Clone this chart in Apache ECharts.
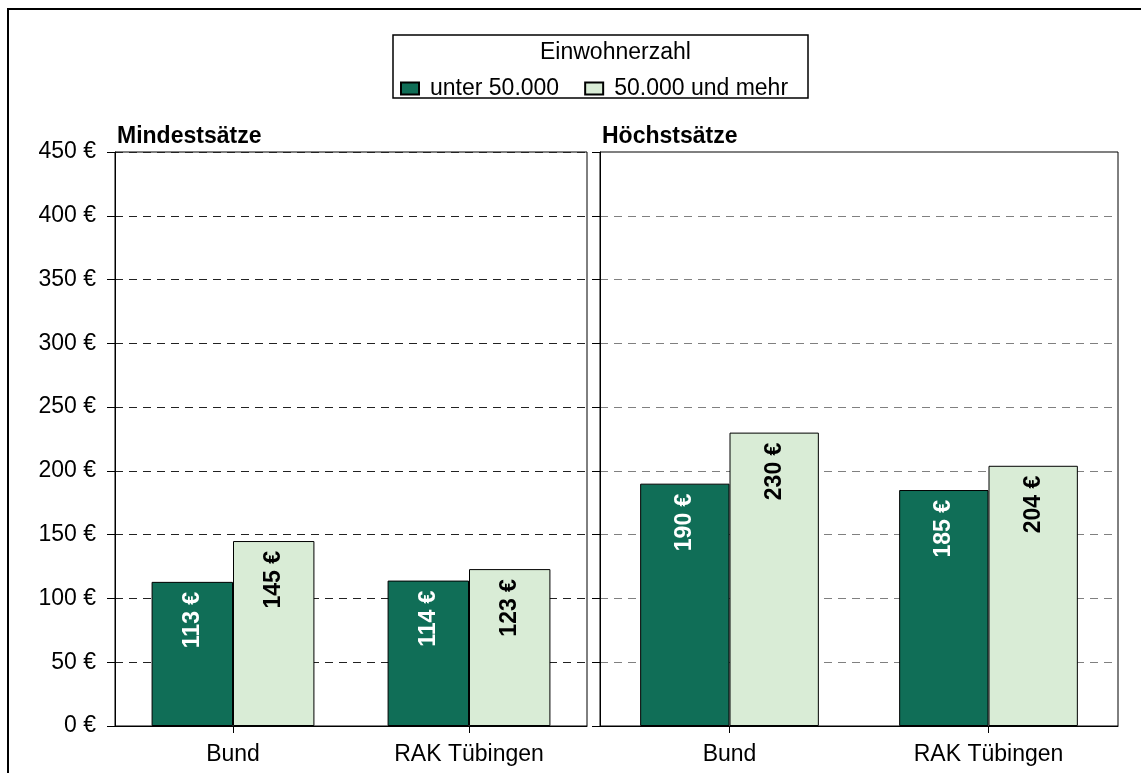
<!DOCTYPE html>
<html lang="de">
<head>
    <meta charset="UTF-8">
    <title>Mindest- und Höchstsätze</title>
    <script src="https://cdn.jsdelivr.net/npm/echarts@6/dist/echarts.min.js"></script>
    <style>
        html, body { margin: 0; padding: 0; background: #fff; }
        #main { width: 1141px; height: 773px; }
    </style>
</head>
<body>
<div id="main"></div>
<script>
    // Daten
    var categories = ["Bund", "RAK Tübingen"];
    var seriesNames = ["unter 50.000", "50.000 und mehr"];
    var minUnter = [113, 114];   // Mindestsätze, unter 50.000
    var minAb = [145, 123];      // Mindestsätze, 50.000 und mehr
    var maxUnter = [190, 185];   // Höchstsätze, unter 50.000
    var maxAb = [230, 204];      // Höchstsätze, 50.000 und mehr
    var yMin = 0, yMax = 450, yStep = 50;

    var dark = "#106e57";
    var light = "#d9ecd6";
    var font = "Liberation Sans, Arial, sans-serif";
    var fs = 23;

    var MyChart = echarts.init(document.getElementById("main"));

    function barLabel(color) {
        return {
            show: true,
            position: "insideTop",
            rotate: 90,
            align: "right",
            verticalAlign: "middle",
            distance: 10,
            formatter: "{c} €",
            color: color,
            fontWeight: "bold",
            fontSize: 23,
            fontFamily: font
        };
    }

    function bar(name, idx, data, fill, txt) {
        return {
            name: name,
            type: "bar",
            xAxisIndex: idx,
            yAxisIndex: idx,
            data: data,
            barGap: "0%",
            barCategoryGap: "31%",
            itemStyle: { color: fill, borderColor: "#000", borderWidth: 1 },
            label: barLabel(txt),
            emphasis: { disabled: true }
        };
    }

    function yAxis(idx, showLabels, gridColor) {
        return {
            type: "value",
            gridIndex: idx,
            min: yMin,
            max: yMax,
            interval: yStep,
            axisLine: { show: true, lineStyle: { color: "#000" } },
            axisTick: { show: true, length: 8, lineStyle: { color: "#000" } },
            axisLabel: {
                show: showLabels,
                formatter: "{value} €",
                margin: 19,
                color: "#000",
                fontSize: fs,
                fontFamily: font
            },
            splitLine: { show: true, lineStyle: { color: gridColor, type: [8, 6], width: 1 } }
        };
    }

    function xAxis(idx) {
        return {
            type: "category",
            gridIndex: idx,
            data: categories,
            axisLine: { show: true, lineStyle: { color: "#000" } },
            axisTick: { show: true, alignWithLabel: true, length: 7, lineStyle: { color: "#000" } },
            axisLabel: { margin: 17, color: "#000", fontSize: fs, fontFamily: font }
        };
    }

    var option = {
        animation: false,
        backgroundColor: "#fff",
        graphic: [
            { type: "rect", shape: { x: 8, y: 9, width: 1200, height: 900 },
              style: { fill: "none", stroke: "#000", lineWidth: 2 }, z: -10 },
            { type: "rect", shape: { x: 393, y: 35, width: 415, height: 63 },
              style: { fill: "#fff", stroke: "#000", lineWidth: 1.5 }, z: -5 }
        ],
        title: [
            { text: "Einwohnerzahl", left: 540, top: 41,
              textStyle: { fontSize: fs, fontWeight: "normal", color: "#000", fontFamily: font }, padding: 0 },
            { text: "Mindestsätze", left: 117, top: 125,
              textStyle: { fontSize: fs, fontWeight: "bold", color: "#000", fontFamily: font }, padding: 0 },
            { text: "Höchstsätze", left: 602, top: 125,
              textStyle: { fontSize: fs, fontWeight: "bold", color: "#000", fontFamily: font }, padding: 0 }
        ],
        legend: {
            data: seriesNames,
            left: 400,
            top: 77,
            padding: 0,
            itemWidth: 18,
            itemHeight: 12,
            itemGap: 25,
            icon: "rect",
            textStyle: { fontSize: fs, color: "#000", fontFamily: font, padding: [0, 0, 0, 6] }
        },
        grid: [
            { left: 115, right: 554, top: 152, bottom: 47, show: true, borderColor: "#000", borderWidth: 1 },
            { left: 600, right: 23, top: 152, bottom: 47, show: true, borderColor: "#000", borderWidth: 1 }
        ],
        xAxis: [xAxis(0), xAxis(1)],
        yAxis: [yAxis(0, true, "#222"), yAxis(1, false, "#808080")],
        series: [
            bar(seriesNames[0], 0, minUnter, dark, "#fff"),
            bar(seriesNames[1], 0, minAb, light, "#000"),
            bar(seriesNames[0], 1, maxUnter, dark, "#fff"),
            bar(seriesNames[1], 1, maxAb, light, "#000")
        ]
    };
    MyChart.setOption(option);
</script>
</body>
</html>
